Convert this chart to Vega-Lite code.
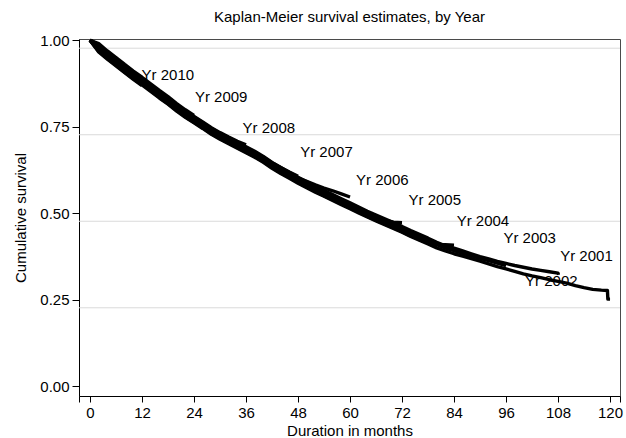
{
  "$schema": "https://vega.github.io/schema/vega-lite/v6.json",
  "width": 541,
  "height": 357,
  "autosize": {"type": "none"},
  "padding": {"left": 79, "top": 39, "right": 6, "bottom": 42},
  "background": "white",
  "config": {
    "font": "Liberation Sans",
    "view": {"stroke": "#4a4a4a", "strokeWidth": 1},
    "axis": {
      "domainColor": "black",
      "tickColor": "black",
      "labelColor": "black",
      "titleColor": "black",
      "labelFont": "Liberation Sans",
      "titleFont": "Liberation Sans",
      "labelFontSize": 15,
      "titleFontSize": 15,
      "titleFontWeight": "normal",
      "grid": false
    }
  },
  "title": {
    "text": "Kaplan-Meier survival estimates, by Year",
    "font": "Liberation Sans",
    "fontSize": 15,
    "fontWeight": "normal",
    "color": "black",
    "anchor": "middle",
    "frame": "group",
    "baseline": "bottom",
    "offset": -7
  },
  "datasets": {
    "grid": [{"s": 0.25}, {"s": 0.5}, {"s": 0.75}, {"s": 1.0}],
    "labels": [
      {"lab": "Yr 2010", "m": 11.9, "s": 0.899},
      {"lab": "Yr 2009", "m": 24.2, "s": 0.836},
      {"lab": "Yr 2008", "m": 35.2, "s": 0.745},
      {"lab": "Yr 2007", "m": 48.5, "s": 0.677},
      {"lab": "Yr 2006", "m": 61.4, "s": 0.595},
      {"lab": "Yr 2005", "m": 73.5, "s": 0.537},
      {"lab": "Yr 2004", "m": 84.6, "s": 0.479},
      {"lab": "Yr 2003", "m": 95.4, "s": 0.429},
      {"lab": "Yr 2001", "m": 108.5, "s": 0.376},
      {"lab": "Yr 2002", "m": 100.4, "s": 0.303}
    ],
    "km": [
      {"yr": 2010, "m": 0, "s": 1}, {"yr": 2010, "m": 2, "s": 0.966}, {"yr": 2010, "m": 4, "s": 0.945}, {"yr": 2010, "m": 6, "s": 0.926}, {"yr": 2010, "m": 8, "s": 0.906}, {"yr": 2010, "m": 10, "s": 0.887}, {"yr": 2010, "m": 12, "s": 0.869},

      {"yr": 2009, "m": 0, "s": 1}, {"yr": 2009, "m": 2, "s": 0.990}, {"yr": 2009, "m": 4, "s": 0.969}, {"yr": 2009, "m": 6, "s": 0.950}, {"yr": 2009, "m": 8, "s": 0.930}, {"yr": 2009, "m": 10, "s": 0.911}, {"yr": 2009, "m": 12, "s": 0.893}, {"yr": 2009, "m": 14, "s": 0.874}, {"yr": 2009, "m": 16, "s": 0.855}, {"yr": 2009, "m": 18, "s": 0.837}, {"yr": 2009, "m": 20, "s": 0.817}, {"yr": 2009, "m": 22, "s": 0.799}, {"yr": 2009, "m": 24, "s": 0.783},

      {"yr": 2008, "m": 0, "s": 1}, {"yr": 2008, "m": 2, "s": 0.987}, {"yr": 2008, "m": 4, "s": 0.966}, {"yr": 2008, "m": 6, "s": 0.947}, {"yr": 2008, "m": 8, "s": 0.927}, {"yr": 2008, "m": 10, "s": 0.908}, {"yr": 2008, "m": 12, "s": 0.890}, {"yr": 2008, "m": 14, "s": 0.871}, {"yr": 2008, "m": 16, "s": 0.852}, {"yr": 2008, "m": 18, "s": 0.834}, {"yr": 2008, "m": 20, "s": 0.814}, {"yr": 2008, "m": 22, "s": 0.796}, {"yr": 2008, "m": 24, "s": 0.780}, {"yr": 2008, "m": 26, "s": 0.764}, {"yr": 2008, "m": 28, "s": 0.747}, {"yr": 2008, "m": 30, "s": 0.733}, {"yr": 2008, "m": 32, "s": 0.720}, {"yr": 2008, "m": 34, "s": 0.708}, {"yr": 2008, "m": 36, "s": 0.698},

      {"yr": 2007, "m": 0, "s": 1}, {"yr": 2007, "m": 2, "s": 0.983}, {"yr": 2007, "m": 4, "s": 0.962}, {"yr": 2007, "m": 6, "s": 0.943}, {"yr": 2007, "m": 8, "s": 0.923}, {"yr": 2007, "m": 10, "s": 0.904}, {"yr": 2007, "m": 12, "s": 0.886}, {"yr": 2007, "m": 14, "s": 0.867}, {"yr": 2007, "m": 16, "s": 0.848}, {"yr": 2007, "m": 18, "s": 0.830}, {"yr": 2007, "m": 20, "s": 0.810}, {"yr": 2007, "m": 22, "s": 0.792}, {"yr": 2007, "m": 24, "s": 0.776}, {"yr": 2007, "m": 26, "s": 0.760}, {"yr": 2007, "m": 28, "s": 0.743}, {"yr": 2007, "m": 30, "s": 0.729}, {"yr": 2007, "m": 32, "s": 0.716}, {"yr": 2007, "m": 34, "s": 0.703}, {"yr": 2007, "m": 36, "s": 0.690}, {"yr": 2007, "m": 38, "s": 0.677}, {"yr": 2007, "m": 40, "s": 0.662}, {"yr": 2007, "m": 42, "s": 0.646}, {"yr": 2007, "m": 44, "s": 0.632}, {"yr": 2007, "m": 46, "s": 0.619}, {"yr": 2007, "m": 48, "s": 0.607},

      {"yr": 2006, "m": 0, "s": 1}, {"yr": 2006, "m": 2, "s": 0.973}, {"yr": 2006, "m": 4, "s": 0.952}, {"yr": 2006, "m": 6, "s": 0.933}, {"yr": 2006, "m": 8, "s": 0.913}, {"yr": 2006, "m": 10, "s": 0.894}, {"yr": 2006, "m": 12, "s": 0.876}, {"yr": 2006, "m": 14, "s": 0.857}, {"yr": 2006, "m": 16, "s": 0.838}, {"yr": 2006, "m": 18, "s": 0.820}, {"yr": 2006, "m": 20, "s": 0.800}, {"yr": 2006, "m": 22, "s": 0.782}, {"yr": 2006, "m": 24, "s": 0.766}, {"yr": 2006, "m": 26, "s": 0.750}, {"yr": 2006, "m": 28, "s": 0.733}, {"yr": 2006, "m": 30, "s": 0.719}, {"yr": 2006, "m": 32, "s": 0.706}, {"yr": 2006, "m": 34, "s": 0.693}, {"yr": 2006, "m": 36, "s": 0.680}, {"yr": 2006, "m": 38, "s": 0.667}, {"yr": 2006, "m": 40, "s": 0.652}, {"yr": 2006, "m": 42, "s": 0.636}, {"yr": 2006, "m": 44, "s": 0.623}, {"yr": 2006, "m": 46, "s": 0.611}, {"yr": 2006, "m": 48, "s": 0.602}, {"yr": 2006, "m": 50, "s": 0.592}, {"yr": 2006, "m": 52, "s": 0.582}, {"yr": 2006, "m": 54, "s": 0.573}, {"yr": 2006, "m": 56, "s": 0.565}, {"yr": 2006, "m": 58, "s": 0.556}, {"yr": 2006, "m": 60, "s": 0.547},

      {"yr": 2005, "m": 0, "s": 1}, {"yr": 2005, "m": 2, "s": 0.981}, {"yr": 2005, "m": 4, "s": 0.960}, {"yr": 2005, "m": 6, "s": 0.941}, {"yr": 2005, "m": 8, "s": 0.921}, {"yr": 2005, "m": 10, "s": 0.902}, {"yr": 2005, "m": 12, "s": 0.884}, {"yr": 2005, "m": 14, "s": 0.865}, {"yr": 2005, "m": 16, "s": 0.846}, {"yr": 2005, "m": 18, "s": 0.828}, {"yr": 2005, "m": 20, "s": 0.808}, {"yr": 2005, "m": 22, "s": 0.790}, {"yr": 2005, "m": 24, "s": 0.774}, {"yr": 2005, "m": 26, "s": 0.758}, {"yr": 2005, "m": 28, "s": 0.741}, {"yr": 2005, "m": 30, "s": 0.727}, {"yr": 2005, "m": 32, "s": 0.714}, {"yr": 2005, "m": 34, "s": 0.701}, {"yr": 2005, "m": 36, "s": 0.688}, {"yr": 2005, "m": 38, "s": 0.675}, {"yr": 2005, "m": 40, "s": 0.660}, {"yr": 2005, "m": 42, "s": 0.643}, {"yr": 2005, "m": 44, "s": 0.628}, {"yr": 2005, "m": 46, "s": 0.614}, {"yr": 2005, "m": 48, "s": 0.600}, {"yr": 2005, "m": 50, "s": 0.587}, {"yr": 2005, "m": 52, "s": 0.574}, {"yr": 2005, "m": 54, "s": 0.562}, {"yr": 2005, "m": 56, "s": 0.550}, {"yr": 2005, "m": 58, "s": 0.538}, {"yr": 2005, "m": 60, "s": 0.526}, {"yr": 2005, "m": 62, "s": 0.514}, {"yr": 2005, "m": 64, "s": 0.502}, {"yr": 2005, "m": 66, "s": 0.491}, {"yr": 2005, "m": 68, "s": 0.480}, {"yr": 2005, "m": 70, "s": 0.474}, {"yr": 2005, "m": 72, "s": 0.473},

      {"yr": 2004, "m": 0, "s": 1}, {"yr": 2004, "m": 2, "s": 0.970}, {"yr": 2004, "m": 4, "s": 0.949}, {"yr": 2004, "m": 6, "s": 0.930}, {"yr": 2004, "m": 8, "s": 0.910}, {"yr": 2004, "m": 10, "s": 0.891}, {"yr": 2004, "m": 12, "s": 0.873}, {"yr": 2004, "m": 14, "s": 0.854}, {"yr": 2004, "m": 16, "s": 0.835}, {"yr": 2004, "m": 18, "s": 0.817}, {"yr": 2004, "m": 20, "s": 0.797}, {"yr": 2004, "m": 22, "s": 0.779}, {"yr": 2004, "m": 24, "s": 0.763}, {"yr": 2004, "m": 26, "s": 0.747}, {"yr": 2004, "m": 28, "s": 0.730}, {"yr": 2004, "m": 30, "s": 0.716}, {"yr": 2004, "m": 32, "s": 0.703}, {"yr": 2004, "m": 34, "s": 0.690}, {"yr": 2004, "m": 36, "s": 0.677}, {"yr": 2004, "m": 38, "s": 0.664}, {"yr": 2004, "m": 40, "s": 0.649}, {"yr": 2004, "m": 42, "s": 0.632}, {"yr": 2004, "m": 44, "s": 0.617}, {"yr": 2004, "m": 46, "s": 0.603}, {"yr": 2004, "m": 48, "s": 0.589}, {"yr": 2004, "m": 50, "s": 0.576}, {"yr": 2004, "m": 52, "s": 0.563}, {"yr": 2004, "m": 54, "s": 0.551}, {"yr": 2004, "m": 56, "s": 0.539}, {"yr": 2004, "m": 58, "s": 0.527}, {"yr": 2004, "m": 60, "s": 0.515}, {"yr": 2004, "m": 62, "s": 0.503}, {"yr": 2004, "m": 64, "s": 0.491}, {"yr": 2004, "m": 66, "s": 0.480}, {"yr": 2004, "m": 68, "s": 0.469}, {"yr": 2004, "m": 70, "s": 0.458}, {"yr": 2004, "m": 72, "s": 0.447}, {"yr": 2004, "m": 74, "s": 0.435}, {"yr": 2004, "m": 76, "s": 0.424}, {"yr": 2004, "m": 78, "s": 0.414}, {"yr": 2004, "m": 80, "s": 0.410}, {"yr": 2004, "m": 82, "s": 0.409}, {"yr": 2004, "m": 84, "s": 0.408},

      {"yr": 2003, "m": 0, "s": 1}, {"yr": 2003, "m": 2, "s": 0.978}, {"yr": 2003, "m": 4, "s": 0.957}, {"yr": 2003, "m": 6, "s": 0.938}, {"yr": 2003, "m": 8, "s": 0.918}, {"yr": 2003, "m": 10, "s": 0.899}, {"yr": 2003, "m": 12, "s": 0.881}, {"yr": 2003, "m": 14, "s": 0.862}, {"yr": 2003, "m": 16, "s": 0.843}, {"yr": 2003, "m": 18, "s": 0.825}, {"yr": 2003, "m": 20, "s": 0.805}, {"yr": 2003, "m": 22, "s": 0.787}, {"yr": 2003, "m": 24, "s": 0.771}, {"yr": 2003, "m": 26, "s": 0.755}, {"yr": 2003, "m": 28, "s": 0.738}, {"yr": 2003, "m": 30, "s": 0.724}, {"yr": 2003, "m": 32, "s": 0.711}, {"yr": 2003, "m": 34, "s": 0.698}, {"yr": 2003, "m": 36, "s": 0.685}, {"yr": 2003, "m": 38, "s": 0.672}, {"yr": 2003, "m": 40, "s": 0.657}, {"yr": 2003, "m": 42, "s": 0.640}, {"yr": 2003, "m": 44, "s": 0.625}, {"yr": 2003, "m": 46, "s": 0.611}, {"yr": 2003, "m": 48, "s": 0.597}, {"yr": 2003, "m": 50, "s": 0.584}, {"yr": 2003, "m": 52, "s": 0.571}, {"yr": 2003, "m": 54, "s": 0.559}, {"yr": 2003, "m": 56, "s": 0.547}, {"yr": 2003, "m": 58, "s": 0.535}, {"yr": 2003, "m": 60, "s": 0.523}, {"yr": 2003, "m": 62, "s": 0.511}, {"yr": 2003, "m": 64, "s": 0.499}, {"yr": 2003, "m": 66, "s": 0.488}, {"yr": 2003, "m": 68, "s": 0.477}, {"yr": 2003, "m": 70, "s": 0.466}, {"yr": 2003, "m": 72, "s": 0.455}, {"yr": 2003, "m": 74, "s": 0.443}, {"yr": 2003, "m": 76, "s": 0.432}, {"yr": 2003, "m": 78, "s": 0.421}, {"yr": 2003, "m": 80, "s": 0.409}, {"yr": 2003, "m": 82, "s": 0.399}, {"yr": 2003, "m": 84, "s": 0.392}, {"yr": 2003, "m": 86, "s": 0.384}, {"yr": 2003, "m": 88, "s": 0.377}, {"yr": 2003, "m": 90, "s": 0.370}, {"yr": 2003, "m": 92, "s": 0.363}, {"yr": 2003, "m": 94, "s": 0.356}, {"yr": 2003, "m": 96, "s": 0.349},

      {"yr": 2002, "m": 0, "s": 1}, {"yr": 2002, "m": 2, "s": 0.985}, {"yr": 2002, "m": 4, "s": 0.964}, {"yr": 2002, "m": 6, "s": 0.945}, {"yr": 2002, "m": 8, "s": 0.925}, {"yr": 2002, "m": 10, "s": 0.906}, {"yr": 2002, "m": 12, "s": 0.888}, {"yr": 2002, "m": 14, "s": 0.869}, {"yr": 2002, "m": 16, "s": 0.850}, {"yr": 2002, "m": 18, "s": 0.832}, {"yr": 2002, "m": 20, "s": 0.812}, {"yr": 2002, "m": 22, "s": 0.794}, {"yr": 2002, "m": 24, "s": 0.778}, {"yr": 2002, "m": 26, "s": 0.762}, {"yr": 2002, "m": 28, "s": 0.745}, {"yr": 2002, "m": 30, "s": 0.731}, {"yr": 2002, "m": 32, "s": 0.718}, {"yr": 2002, "m": 34, "s": 0.705}, {"yr": 2002, "m": 36, "s": 0.692}, {"yr": 2002, "m": 38, "s": 0.679}, {"yr": 2002, "m": 40, "s": 0.664}, {"yr": 2002, "m": 42, "s": 0.647}, {"yr": 2002, "m": 44, "s": 0.632}, {"yr": 2002, "m": 46, "s": 0.618}, {"yr": 2002, "m": 48, "s": 0.604}, {"yr": 2002, "m": 50, "s": 0.591}, {"yr": 2002, "m": 52, "s": 0.578}, {"yr": 2002, "m": 54, "s": 0.566}, {"yr": 2002, "m": 56, "s": 0.554}, {"yr": 2002, "m": 58, "s": 0.542}, {"yr": 2002, "m": 60, "s": 0.530}, {"yr": 2002, "m": 62, "s": 0.518}, {"yr": 2002, "m": 64, "s": 0.506}, {"yr": 2002, "m": 66, "s": 0.495}, {"yr": 2002, "m": 68, "s": 0.484}, {"yr": 2002, "m": 70, "s": 0.473}, {"yr": 2002, "m": 72, "s": 0.462}, {"yr": 2002, "m": 74, "s": 0.450}, {"yr": 2002, "m": 76, "s": 0.439}, {"yr": 2002, "m": 78, "s": 0.428}, {"yr": 2002, "m": 80, "s": 0.416}, {"yr": 2002, "m": 82, "s": 0.406}, {"yr": 2002, "m": 84, "s": 0.399}, {"yr": 2002, "m": 86, "s": 0.391}, {"yr": 2002, "m": 88, "s": 0.383}, {"yr": 2002, "m": 90, "s": 0.375}, {"yr": 2002, "m": 92, "s": 0.368}, {"yr": 2002, "m": 94, "s": 0.361}, {"yr": 2002, "m": 96, "s": 0.355}, {"yr": 2002, "m": 98, "s": 0.349}, {"yr": 2002, "m": 100, "s": 0.344}, {"yr": 2002, "m": 102, "s": 0.339}, {"yr": 2002, "m": 104, "s": 0.335}, {"yr": 2002, "m": 106, "s": 0.331}, {"yr": 2002, "m": 108, "s": 0.327}, {"yr": 2002, "m": 108.1, "s": 0.322},

      {"yr": 2001, "m": 0, "s": 1}, {"yr": 2001, "m": 2, "s": 0.968}, {"yr": 2001, "m": 4, "s": 0.947}, {"yr": 2001, "m": 6, "s": 0.928}, {"yr": 2001, "m": 8, "s": 0.908}, {"yr": 2001, "m": 10, "s": 0.889}, {"yr": 2001, "m": 12, "s": 0.871}, {"yr": 2001, "m": 14, "s": 0.852}, {"yr": 2001, "m": 16, "s": 0.833}, {"yr": 2001, "m": 18, "s": 0.815}, {"yr": 2001, "m": 20, "s": 0.795}, {"yr": 2001, "m": 22, "s": 0.777}, {"yr": 2001, "m": 24, "s": 0.761}, {"yr": 2001, "m": 26, "s": 0.745}, {"yr": 2001, "m": 28, "s": 0.728}, {"yr": 2001, "m": 30, "s": 0.714}, {"yr": 2001, "m": 32, "s": 0.701}, {"yr": 2001, "m": 34, "s": 0.688}, {"yr": 2001, "m": 36, "s": 0.675}, {"yr": 2001, "m": 38, "s": 0.662}, {"yr": 2001, "m": 40, "s": 0.647}, {"yr": 2001, "m": 42, "s": 0.630}, {"yr": 2001, "m": 44, "s": 0.615}, {"yr": 2001, "m": 46, "s": 0.601}, {"yr": 2001, "m": 48, "s": 0.587}, {"yr": 2001, "m": 50, "s": 0.574}, {"yr": 2001, "m": 52, "s": 0.561}, {"yr": 2001, "m": 54, "s": 0.549}, {"yr": 2001, "m": 56, "s": 0.537}, {"yr": 2001, "m": 58, "s": 0.525}, {"yr": 2001, "m": 60, "s": 0.513}, {"yr": 2001, "m": 62, "s": 0.501}, {"yr": 2001, "m": 64, "s": 0.489}, {"yr": 2001, "m": 66, "s": 0.478}, {"yr": 2001, "m": 68, "s": 0.467}, {"yr": 2001, "m": 70, "s": 0.456}, {"yr": 2001, "m": 72, "s": 0.445}, {"yr": 2001, "m": 74, "s": 0.433}, {"yr": 2001, "m": 76, "s": 0.422}, {"yr": 2001, "m": 78, "s": 0.411}, {"yr": 2001, "m": 80, "s": 0.400}, {"yr": 2001, "m": 82, "s": 0.391}, {"yr": 2001, "m": 84, "s": 0.383}, {"yr": 2001, "m": 86, "s": 0.376}, {"yr": 2001, "m": 88, "s": 0.369}, {"yr": 2001, "m": 90, "s": 0.362}, {"yr": 2001, "m": 92, "s": 0.354}, {"yr": 2001, "m": 94, "s": 0.346}, {"yr": 2001, "m": 96, "s": 0.339}, {"yr": 2001, "m": 98, "s": 0.332}, {"yr": 2001, "m": 100, "s": 0.325}, {"yr": 2001, "m": 102, "s": 0.319}, {"yr": 2001, "m": 104, "s": 0.314}, {"yr": 2001, "m": 106, "s": 0.308}, {"yr": 2001, "m": 108, "s": 0.303}, {"yr": 2001, "m": 110, "s": 0.298}, {"yr": 2001, "m": 112, "s": 0.291}, {"yr": 2001, "m": 114, "s": 0.285}, {"yr": 2001, "m": 116, "s": 0.280}, {"yr": 2001, "m": 118, "s": 0.278}, {"yr": 2001, "m": 119.4, "s": 0.277}, {"yr": 2001, "m": 119.5, "s": 0.252}, {"yr": 2001, "m": 120, "s": 0.252}
    ]
  },
  "layer": [
    {
      "data": {"name": "grid"},
      "mark": {"type": "rule", "color": "#dadada", "strokeWidth": 1, "yOffset": 8},
      "encoding": {
        "y": {"field": "s", "type": "quantitative", "scale": {"domain": [-0.028, 1.0035], "nice": false, "zero": false}}
      }
    },
    {
      "data": {"name": "km"},
      "mark": {"type": "line", "color": "black", "strokeWidth": 3.4, "strokeJoin": "round", "strokeCap": "butt"},
      "encoding": {
        "x": {
          "field": "m", "type": "quantitative",
          "scale": {"domain": [-2.54, 122.3], "nice": false, "zero": false},
          "axis": {
            "title": "Duration in months",
            "values": [-2.54, 0, 12, 24, 36, 48, 60, 72, 84, 96, 108, 120, 122.3],
            "labelExpr": "datum.value < 0 || datum.value > 121 ? '' : datum.label",
            "format": "d",
            "tickSize": 6,
            "labelPadding": 3,
            "titlePadding": 3,
            "labelOverlap": false,
            "labelFlush": false
          }
        },
        "y": {
          "field": "s", "type": "quantitative",
          "scale": {"domain": [-0.028, 1.0035], "nice": false, "zero": false},
          "axis": {
            "title": "Cumulative survival",
            "values": [0, 0.25, 0.5, 0.75, 1],
            "format": ".2f",
            "tickSize": 7,
            "labelPadding": 3,
            "titlePadding": 11,
            "labelOverlap": false
          }
        },
        "detail": {"field": "yr", "type": "nominal"},
        "order": {"field": "m", "type": "quantitative"}
      }
    },
    {
      "data": {"name": "labels"},
      "mark": {"type": "text", "align": "left", "baseline": "middle", "fontSize": 15, "font": "Liberation Sans", "color": "black"},
      "encoding": {
        "x": {"field": "m", "type": "quantitative"},
        "y": {"field": "s", "type": "quantitative"},
        "text": {"field": "lab", "type": "nominal"}
      }
    }
  ]
}
